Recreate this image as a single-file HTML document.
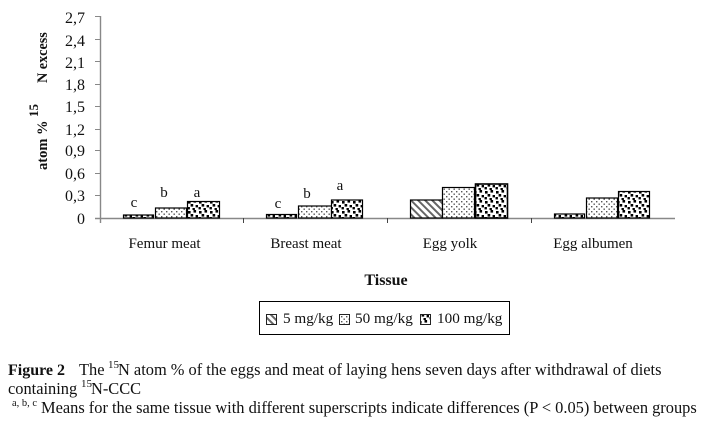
<!DOCTYPE html>
<html><head><meta charset="utf-8"><style>
html,body{margin:0;padding:0;background:#fff;width:703px;height:421px;overflow:hidden}
text{font-family:"Liberation Serif",serif;fill:#111}
</style></head><body>
<svg width="703" height="421" viewBox="0 0 703 421" xmlns="http://www.w3.org/2000/svg" style="display:block">
<defs>
<pattern id="d" width="5" height="5" patternUnits="userSpaceOnUse" patternTransform="rotate(45)"><rect width="5" height="5" fill="#fff"/><rect y="0" width="5" height="2" fill="#666"/></pattern>
<pattern id="m" width="5" height="5" patternUnits="userSpaceOnUse"><rect width="5" height="5" fill="#fff"/><rect x="1" y="1" width="1.4" height="1.4" fill="#555"/><rect x="3.5" y="3.5" width="1.4" height="1.4" fill="#555"/></pattern>
<pattern id="h" width="11" height="10" patternUnits="userSpaceOnUse"><rect width="11" height="10" fill="#fff"/><rect x="1" y="1" width="2.6" height="2.6" fill="#000"/><rect x="6.5" y="0" width="2.6" height="2.6" fill="#000"/><rect x="3.6" y="4" width="2.6" height="2.6" fill="#000"/><rect x="8.6" y="5" width="2.4" height="2.4" fill="#000"/><rect x="0.5" y="7" width="2.4" height="2.4" fill="#000"/><rect x="5.5" y="8" width="2.4" height="2" fill="#000"/></pattern>
</defs>
<g stroke="#888" stroke-width="1" fill="none">
<path d="M100.5 16V223M95 218.5H675" stroke-width="1.4"/>
<path d="M95 16.5h5M95 39.5h5M95 61.5h5M95 84.5h5M95 106.5h5M95 129.5h5M95 150.5h5M95 173.5h5M95 195.5h5"/>
</g>
<path d="M243.5 218v5M387.5 218v5M531.5 218v5" stroke="#444" fill="none"/>
<g stroke="#000" stroke-width="1.2">
<rect x="123.5" y="215" width="30" height="3" fill="url(#h)"/>
<rect x="155.5" y="208" width="31" height="10" fill="url(#m)"/>
<rect x="187.5" y="201.5" width="32" height="16.5" fill="url(#h)"/>
<rect x="266.5" y="214.5" width="30" height="3.5" fill="url(#h)"/>
<rect x="298.5" y="206" width="33" height="12" fill="url(#m)"/>
<rect x="331.5" y="200" width="31" height="18" fill="url(#h)"/>
<rect x="410.5" y="200" width="32" height="18" fill="url(#d)"/>
<rect x="442.5" y="187.5" width="32" height="30.5" fill="url(#m)"/>
<rect x="475.5" y="184" width="32" height="34" fill="url(#h)" stroke-width="1.6"/>
<rect x="554.5" y="214" width="30" height="4" fill="url(#h)"/>
<rect x="586.5" y="198" width="31" height="20" fill="url(#m)"/>
<rect x="618.5" y="191.5" width="31" height="26.5" fill="url(#h)"/>
</g>
<g font-size="16" text-anchor="end">
<text x="85" y="23">2,7</text><text x="85" y="46">2,4</text><text x="85" y="68">2,1</text><text x="85" y="90">1,8</text><text x="85" y="112">1,5</text><text x="85" y="135">1,2</text><text x="85" y="156">0,9</text><text x="85" y="179">0,6</text><text x="85" y="201">0,3</text><text x="85" y="224">0</text>
</g>
<g font-size="15" text-anchor="middle">
<text x="134" y="207">c</text><text x="164" y="197">b</text><text x="197" y="197">a</text>
<text x="278" y="208">c</text><text x="307" y="198">b</text><text x="340" y="190">a</text>
</g>
<text transform="translate(47,170) rotate(-90)" font-size="14.5" font-weight="bold">atom %</text>
<text transform="translate(38,117) rotate(-90)" font-size="13" font-weight="bold">15</text>
<text transform="translate(47,83) rotate(-90)" font-size="14.2" font-weight="bold">N excess</text>
<g font-size="15" text-anchor="middle">
<text x="164.5" y="248">Femur meat</text><text x="306" y="248">Breast meat</text><text x="450" y="248">Egg yolk</text><text x="593" y="248">Egg albumen</text>
</g>
<text x="386" y="285" font-size="16" font-weight="bold" text-anchor="middle">Tissue</text>
<rect x="259.5" y="301.5" width="250" height="33" fill="#fff" stroke="#000"/>
<g stroke="#222"><rect x="266.5" y="314.5" width="10" height="10" fill="url(#d)"/><rect x="339.5" y="314.5" width="10" height="10" fill="url(#m)"/><rect x="420.5" y="314.5" width="10" height="10" fill="url(#h)"/></g>
<g font-size="15.2"><text x="283" y="323">5 mg/kg</text><text x="355" y="323">50 mg/kg</text><text x="437" y="323">100 mg/kg</text></g>
<g font-size="16.4">
<text x="8" y="375" font-size="16" font-weight="bold">Figure 2</text>
<text x="79" y="375">The</text><text x="108" y="368" font-size="11">15</text><text x="118" y="375">N atom % of the eggs and meat of laying hens seven days after withdrawal of diets</text>
<text x="8" y="394">containing</text><text x="81" y="387" font-size="11">15</text><text x="91" y="394">N-CCC</text>
<text x="12" y="406" font-size="10.5">a, b, c</text><text x="41" y="413">Means for the same tissue with different superscripts indicate differences (P &lt; 0.05) between groups</text>
</g>
</svg>
</body></html>
